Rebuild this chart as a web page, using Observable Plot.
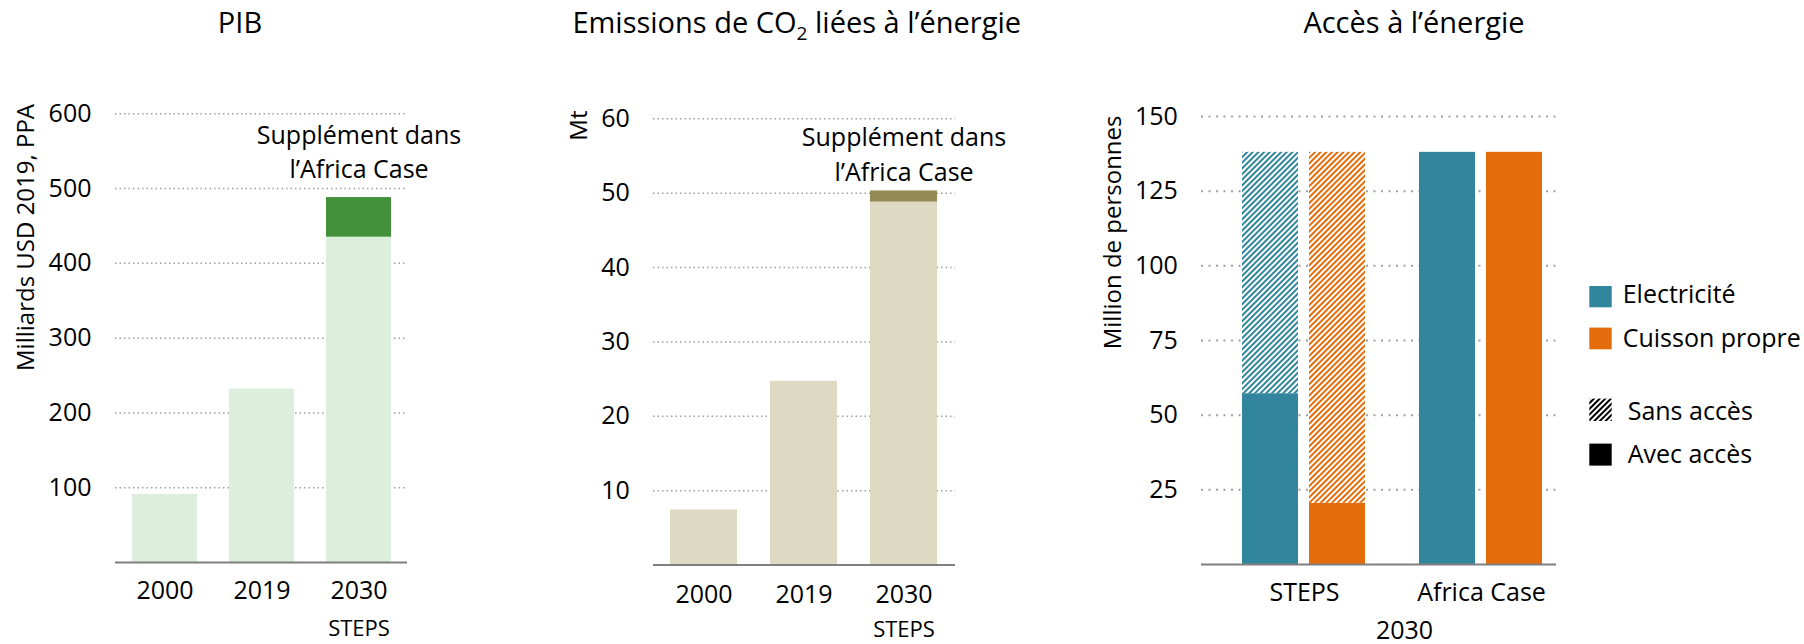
<!DOCTYPE html>
<html>
<head>
<meta charset="utf-8">
<script src="https://cdn.jsdelivr.net/npm/d3@7"></script>
<script src="https://cdn.jsdelivr.net/npm/@observablehq/plot@0.6"></script>
<style>
  html, body { margin: 0; padding: 0; background: #fff; }
  #root { position: relative; width: 1804px; height: 644px; overflow: hidden; background: #fff; font-family: "Open Sans", sans-serif; color: #000; }
  .panel { position: absolute; top: 0; }
  .panel svg { overflow: visible; }
  #p3 svg { position: absolute; left: 0; top: 0; }
  #overlay { position: absolute; left: 0; top: 0; pointer-events: none; }
</style>
</head>
<body>
<div id="root">
  <svg width="0" height="0" style="position:absolute">
    <defs>
      <pattern id="hatchTeal" patternUnits="userSpaceOnUse" width="4" height="4" patternTransform="rotate(45)">
        <rect width="4" height="4" fill="#ffffff"></rect>
        <rect width="2" height="4" fill="#31859c"></rect>
      </pattern>
      <pattern id="hatchOrange" patternUnits="userSpaceOnUse" width="4" height="4" patternTransform="rotate(45)">
        <rect width="4" height="4" fill="#ffffff"></rect>
        <rect width="2" height="4" fill="#e46c0a"></rect>
      </pattern>
      <pattern id="hatchBlack" patternUnits="userSpaceOnUse" width="4" height="4" patternTransform="rotate(45)">
        <rect width="4" height="4" fill="#ffffff"></rect>
        <rect width="2" height="4" fill="#000000"></rect>
      </pattern>
    </defs>
  </svg>
  <div class="panel" id="p1" style="left:0px"></div>
  <div class="panel" id="p2" style="left:470px"></div>
  <div class="panel" id="p3" style="left:1040px; width:764px; height:644px"></div>
  <svg id="overlay" width="1804" height="644" font-family="Open Sans, sans-serif" fill="#000">
    <text x="240" y="33.3" font-size="29" text-anchor="middle">PIB</text>
    <text x="796.7" y="33.3" font-size="29" text-anchor="middle">Emissions de CO<tspan dy="7" font-size="19">2</tspan><tspan dy="-7"> liées à l’énergie</tspan></text>
    <text x="1414" y="33.3" font-size="29" text-anchor="middle">Accès à l’énergie</text>
    <rect x="1589.3" y="286" width="22.4" height="21.3" fill="#31859c"></rect>
    <text x="1622.7" y="302.7" font-size="25">Electricité</text>
    <rect x="1589.3" y="327.6" width="22.4" height="21.7" fill="#e46c0a"></rect>
    <text x="1622.7" y="346.7" font-size="25">Cuisson propre</text>
    <rect x="1589.3" y="398.6" width="22.4" height="22.4" fill="url(#hatchBlack)"></rect>
    <text x="1627.7" y="420" font-size="25">Sans accès</text>
    <rect x="1589.3" y="443.6" width="22.4" height="22" fill="#000"></rect>
    <text x="1627.7" y="463.3" font-size="25">Avec accès</text>
  </svg>
</div>
<script>
// ---------- data ----------
const pibYears = ["2000", "2019", "2030"];
const pibSteps = [91, 232, 435];
const pibAfricaExtra = [0, 0, 53];
const pibTicks = [100, 200, 300, 400, 500, 600];
const pibAnnotY = 514;

const co2Years = ["2000", "2019", "2030"];
const co2Steps = [7.4, 24.7, 48.8];
const co2AfricaExtra = [0, 0, 1.5];
const co2Ticks = [10, 20, 30, 40, 50, 60];
const co2AnnotY = 51.7;

const accScenarios = ["STEPS", "Africa Case"];
const accTypes = ["Electricité", "Cuisson propre"];
const accTotal = [[138, 138], [138, 138]];
const accWith = [[57.2, 20.5], [138, 138]];
const accTicks = [25, 50, 75, 100, 125, 150];
const accYear = "2030";

const seriesNames = ["STEPS", "Supplément dans l’Africa Case"];
const annotText = "Supplément dans\nl’Africa Case";
const subLabel = "STEPS";

// ---------- styles ----------
const FONT = "Open Sans, sans-serif";
const GRID = "#a0a0a0";
const AXIS = "#7f7f7f";
const TEAL = "#31859c";
const ORANGE = "#e46c0a";
const STYLE = {fontFamily: FONT, fontSize: "25px", color: "#000", background: "transparent", overflow: "visible"};

function rowsFor(years, base, extra) {
  const rows = [];
  years.forEach((y, i) => {
    rows.push({year: y, series: seriesNames[0], v: base[i]});
    if (extra[i] > 0) rows.push({year: y, series: seriesNames[1], v: extra[i]});
  });
  return rows;
}

function barPanel(cfg) {
  return Plot.plot({
    width: cfg.width, height: 644,
    marginTop: cfg.mt, marginBottom: cfg.mb, marginLeft: cfg.ml, marginRight: cfg.mr,
    style: STYLE,
    x: {domain: cfg.years, paddingInner: cfg.pi, paddingOuter: cfg.po, tickSize: 0, tickPadding: cfg.xpad, label: null},
    y: {domain: [0, cfg.ticks[cfg.ticks.length - 1]], ticks: cfg.ticks, tickSize: 0, tickPadding: cfg.ypad, label: null},
    color: {domain: seriesNames, range: cfg.colors},
    marks: [
      Plot.ruleY(cfg.ticks, {stroke: GRID, strokeWidth: 1.5, strokeDasharray: "1.5 3"}),
      Plot.barY(rowsFor(cfg.years, cfg.base, cfg.extra), {x: "year", y: "v", fill: "series"}),
      Plot.ruleY([0], {stroke: AXIS, strokeWidth: 2}),
      Plot.text([{year: cfg.years[2], label: annotText, y: cfg.annotY}], {x: "year", y: "y", text: "label", lineAnchor: "bottom", lineHeight: 1.384, fontSize: 25}),
      Plot.text([{year: cfg.years[2], label: subLabel}], {x: "year", text: "label", frameAnchor: "bottom", lineAnchor: "bottom", dy: cfg.subDy, fontSize: 22}),
      Plot.text([cfg.ylabel], {text: d => d, frameAnchor: "top-left", rotate: -90, textAnchor: "end", lineAnchor: "bottom", dx: cfg.ldx, dy: cfg.ldy, fontSize: 24})
    ]
  });
}

document.getElementById("p1").append(barPanel({
  width: 470, mt: 113.3, mb: 82, ml: 115, mr: 63,
  years: pibYears, base: pibSteps, extra: pibAfricaExtra, ticks: pibTicks, annotY: pibAnnotY,
  pi: 0.33, po: 0.165, xpad: 19, ypad: 24, subDy: 73,
  colors: ["#deeedc", "#43913a"],
  ylabel: "Milliards USD 2019, PPA", ldx: -81.7, ldy: -9.8
}));

document.getElementById("p2").append(barPanel({
  width: 560, mt: 118.3, mb: 79.5, ml: 183, mr: 75,
  years: co2Years, base: co2Steps, extra: co2AfricaExtra, ticks: co2Ticks, annotY: co2AnnotY,
  pi: 0.327, po: 0.17, xpad: 20, ypad: 23.7, subDy: 72,
  colors: ["#ddd9c3", "#948a54"],
  ylabel: "Mt", ldx: -66.3, ldy: -8.3
}));

// ---------- access panel (three aligned layers: grid, faceted bars, axis) ----------
const accRows = [];
accScenarios.forEach((s, i) => accTypes.forEach((t, j) =>
  accRows.push({scen: s, type: t, avec: accWith[i][j], total: accTotal[i][j]})));

const p3Frame = {
  width: 764, height: 644,
  marginTop: 116, marginBottom: 80, marginLeft: 161, marginRight: 248,
  style: STYLE,
  y: {domain: [0, 150], axis: null}
};

const p3Grid = Plot.plot({
  ...p3Frame,
  marks: [Plot.ruleY(accTicks, {stroke: GRID, strokeWidth: 2, strokeDasharray: "2 5.5"})]
});

const p3Bars = Plot.plot({
  ...p3Frame,
  fx: {domain: accScenarios, paddingInner: 0.297, paddingOuter: 0.15, align: 0.77, axis: "bottom", tickSize: 0, tickPadding: 19, label: null},
  x: {domain: accTypes, paddingInner: 0.1625, paddingOuter: 0, axis: null},
  color: {domain: accTypes, range: [TEAL, ORANGE]},
  marks: [
    Plot.barY(accRows, {fx: "scen", x: "type", y: "avec", fill: "type"}),
    Plot.barY(accRows.filter(d => d.type === accTypes[0]), {fx: "scen", x: "type", y1: "avec", y2: "total", fill: "url(#hatchTeal)"}),
    Plot.barY(accRows.filter(d => d.type === accTypes[1]), {fx: "scen", x: "type", y1: "avec", y2: "total", fill: "url(#hatchOrange)"})
  ]
});

const p3Axis = Plot.plot({
  ...p3Frame,
  marks: [
    Plot.ruleY([0], {stroke: AXIS, strokeWidth: 2}),
    Plot.text(accTicks, {y: d => d, text: d => String(d), frameAnchor: "left", textAnchor: "end", dx: -23.7, fontSize: 25}),
    Plot.text(["Million de personnes"], {text: d => d, frameAnchor: "top-left", rotate: -90, textAnchor: "end", lineAnchor: "bottom", dx: -81, dy: -1, fontSize: 24}),
    Plot.text([accYear], {text: d => d, frameAnchor: "bottom", lineAnchor: "bottom", dx: 25.5, dy: 74, fontSize: 25})
  ]
});

const p3 = document.getElementById("p3");
p3.append(p3Grid, p3Bars, p3Axis);
</script>
</body>
</html>
